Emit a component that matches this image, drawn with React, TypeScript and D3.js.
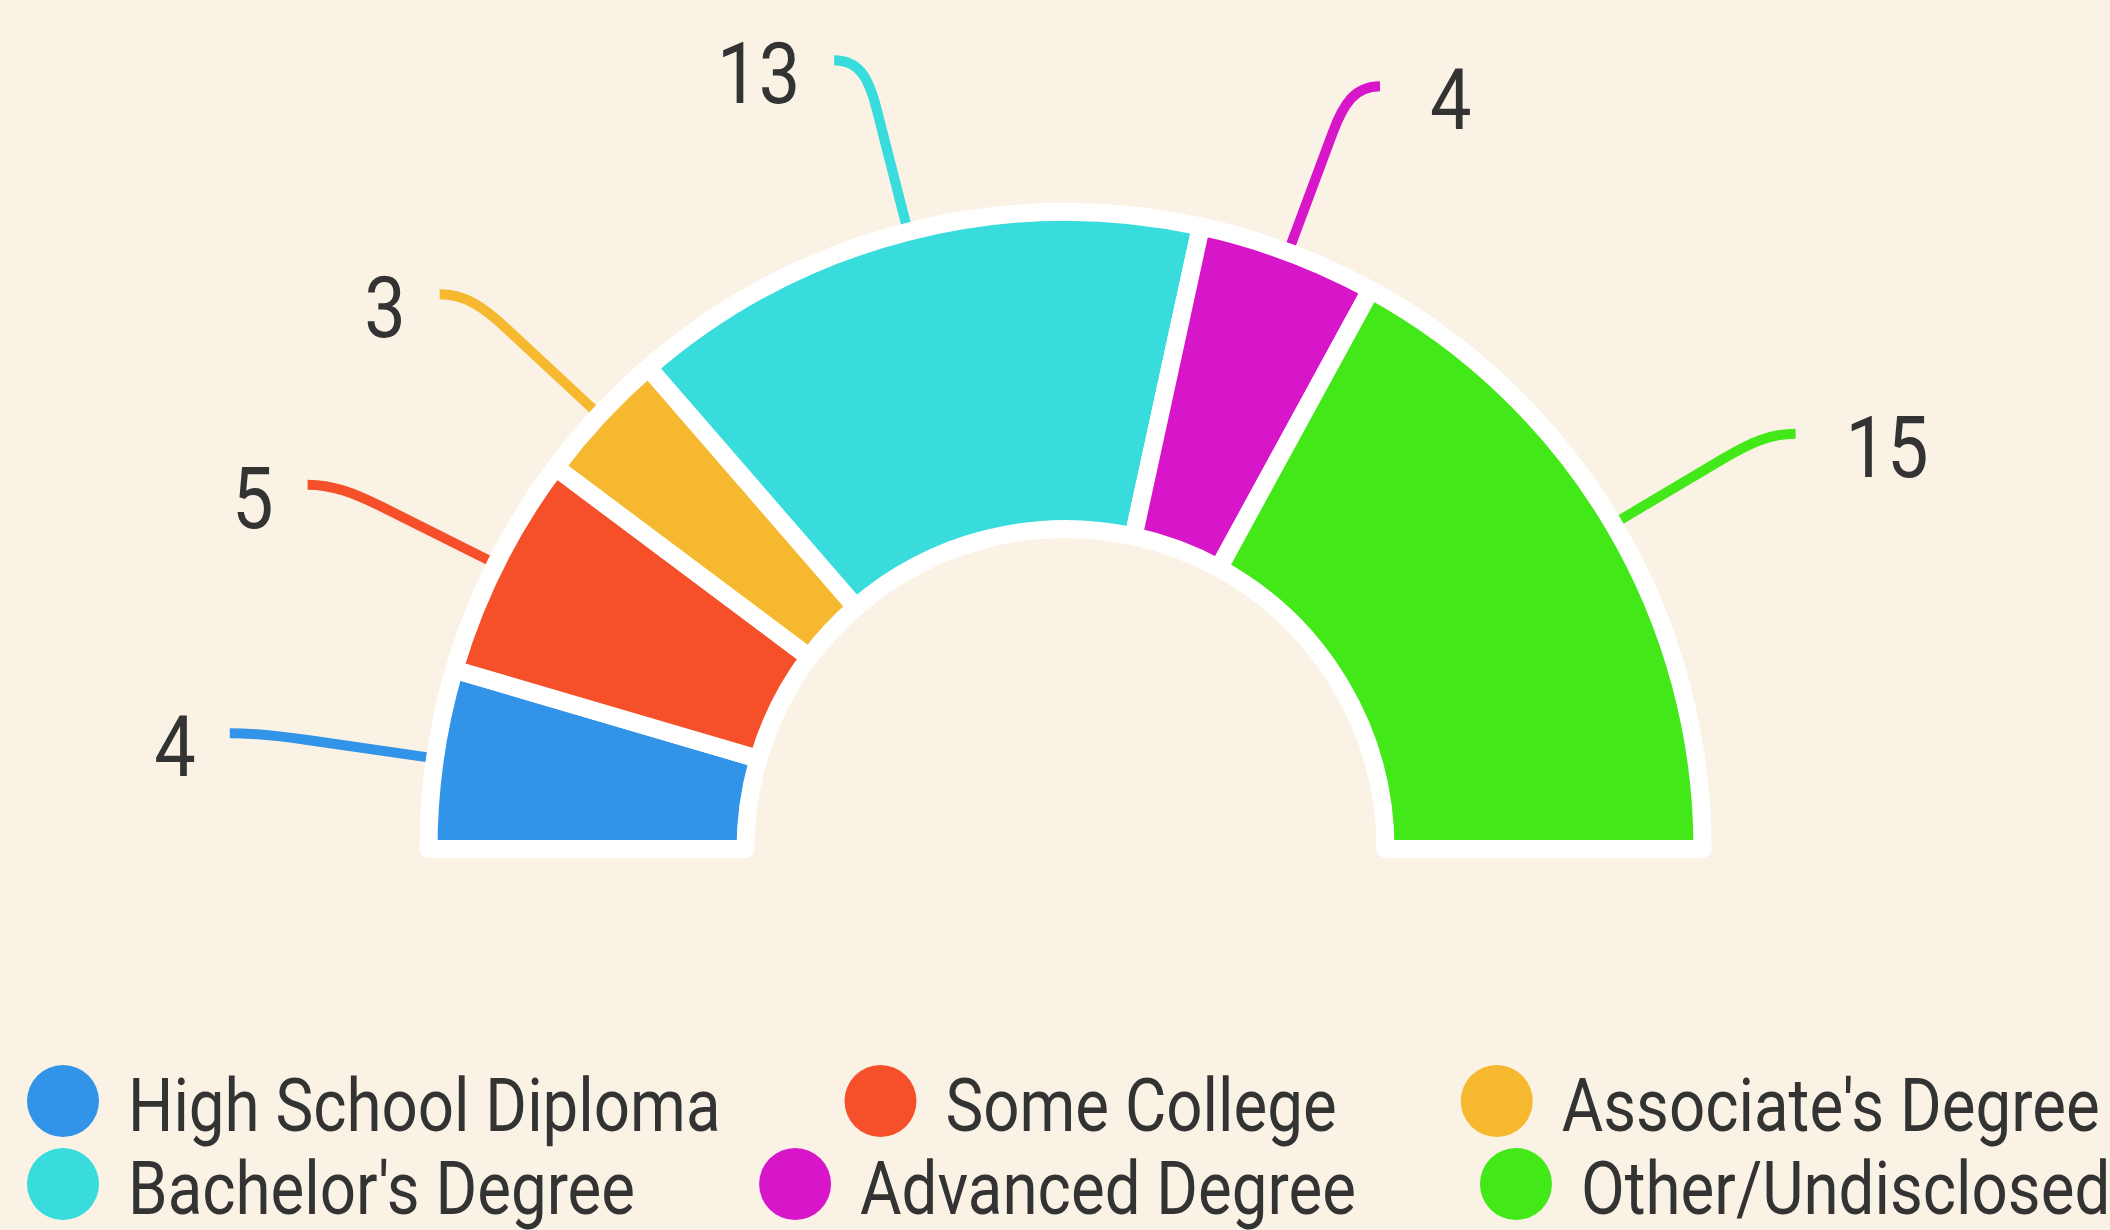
import React, { useEffect, useRef } from "react";
import * as d3 from "d3";

const categories = [
  "High School Diploma",
  "Some College",
  "Associate's Degree",
  "Bachelor's Degree",
  "Advanced Degree",
  "Other/Undisclosed",
];
const values = [4, 5, 3, 13, 4, 15];
const colors = ["#3294E8", "#F5502A", "#F5B82E", "#38DCDC", "#D616C8", "#42E817"];
const legendRows = [
  [0, 1, 2],
  [3, 4, 5],
];

const W = 2110;
const H = 1230;
const BG = "#FAF3E5";
const TEXT = "#333333";
const FONT = "Roboto, 'Noto Sans', sans-serif";
const SX = 0.86;

export default function App() {
  const ref = useRef<SVGSVGElement | null>(null);

  useEffect(() => {
    const draw = () => {
      const svg = d3.select(ref.current);
      svg.selectAll("*").remove();
      svg.append("rect").attr("width", W).attr("height", H).attr("fill", BG);

      const cx = 1065.5;
      const cy = 849;
      const R = 637;
      const r = 320;
      const g = svg.append("g").attr("transform", `translate(${cx},${cy})`);

      const pie = d3
        .pie<number>()
        .sort(null)
        .value((d) => d)
        .startAngle(-Math.PI / 2)
        .endAngle(Math.PI / 2);
      const arcs = pie(values);
      const arc = d3.arc<d3.PieArcDatum<number>>().innerRadius(r).outerRadius(R);

      // label lines (under slices)
      const r0 = R;
      const r1 = 814;
      const len2 = 30;
      const lines = g.append("g");
      const labels = g.append("g");
      arcs.forEach((a, i) => {
        const mid = (a.startAngle + a.endAngle) / 2;
        const dx = Math.sin(mid);
        const dy = -Math.cos(mid);
        const side = dx >= 0 ? 1 : -1;
        const p0 = [dx * r0, dy * r0];
        const p1 = [dx * r1, dy * r1];
        const q = [dx * (r1 - 50), dy * (r1 - 50)];
        const p2 = [p1[0] + side * len2, p1[1]];
        const path = d3.path();
        path.moveTo(p0[0], p0[1]);
        path.lineTo(q[0], q[1]);
        path.bezierCurveTo(
          dx * (r1 - 18), dy * (r1 - 18),
          p1[0] + side * 5, p1[1],
          p2[0], p2[1]
        );
        lines
          .append("path")
          .attr("d", path.toString())
          .attr("fill", "none")
          .attr("stroke", colors[i])
          .attr("stroke-width", 10);
        const tx = p2[0] + side * (side > 0 ? 50 : 34);
        const ty = p2[1] + 43;
        labels
          .append("text")
          .attr("transform", `translate(${tx},${ty}) scale(${SX},1)`)
          .attr("text-anchor", side > 0 ? "start" : "end")
          .attr("font-family", FONT)
          .attr("font-size", 86)
          .attr("fill", TEXT)
          .text(String(values[i]));
      });

      g.append("g")
        .selectAll("path")
        .data(arcs)
        .join("path")
        .attr("d", (d) => arc(d) as string)
        .attr("fill", (_d, i) => colors[i])
        .attr("stroke", "#FFFFFF")
        .attr("stroke-width", 18)
        .attr("stroke-linejoin", "round");

      // legend
      const legend = svg.append("g");
      const rowY = [1101, 1184];
      const cr = 36;
      const textOff = 65;
      const gap = 124;
      const rowLeft = 27;
      legendRows.forEach((row, ri) => {
        const items = row.map((idx) => {
          const gi = legend.append("g");
          gi.append("circle").attr("r", cr).attr("cx", 0).attr("cy", rowY[ri]).attr("fill", colors[idx]);
          const t = gi
            .append("text")
            .attr("transform", `translate(${textOff},${rowY[ri] + 30}) scale(${SX},1)`)
            .attr("font-family", FONT)
            .attr("font-size", 74)
            .attr("fill", TEXT)
            .text(categories[idx]);
          const tw = (t.node() as SVGTextElement).getComputedTextLength() * SX;
          return { gi, w: cr + textOff + tw };
        });
        let x = rowLeft;
        items.forEach((it) => {
          it.gi.attr("transform", `translate(${x + cr},0)`);
          x += it.w + gap;
        });
      });
    };
    draw();
    if ((document as any).fonts && (document as any).fonts.ready) {
      (document as any).fonts.ready.then(draw);
    }
  }, []);

  return (
    <svg
      ref={ref}
      width={W}
      height={H}
      style={{ position: "absolute", left: 0, top: 0, display: "block" }}
    />
  );
}
